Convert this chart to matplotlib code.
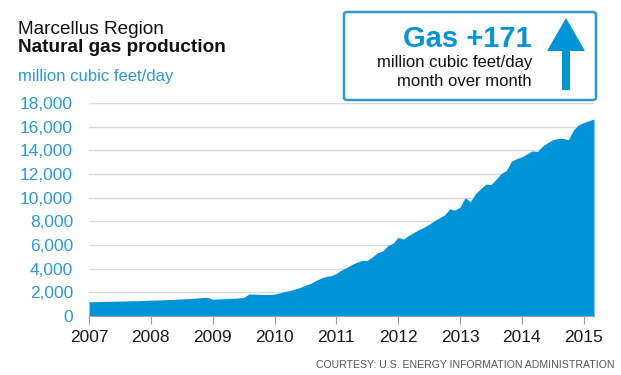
import numpy as np
import matplotlib
matplotlib.use("Agg")
import matplotlib.pyplot as plt
from matplotlib.patches import FancyBboxPatch, Polygon

plt.rcParams['font.family'] = ['Liberation Sans', 'DejaVu Sans']

start_year = 2007
# Monthly production, million cubic feet/day, Jan 2007 - Mar 2015
production = [
    # 2007
    1200, 1210, 1220, 1230, 1240, 1250, 1260, 1270, 1280, 1290, 1300, 1320,
    # 2008
    1340, 1350, 1360, 1380, 1400, 1420, 1440, 1460, 1490, 1520, 1560, 1570,
    # 2009
    1420, 1440, 1460, 1480, 1500, 1520, 1560, 1850, 1850, 1830, 1820, 1820,
    # 2010
    1850, 1950, 2080, 2150, 2280, 2420, 2600, 2750, 3000, 3200, 3350, 3400,
    # 2011
    3600, 3900, 4100, 4350, 4550, 4700, 4700, 5000, 5350, 5500, 5950, 6150,
    # 2012
    6650, 6500, 6800, 7050, 7300, 7500, 7750, 8050, 8300, 8550, 9050, 8950,
    # 2013
    9200, 10000, 9650, 10350, 10750, 11150, 11100, 11550, 12050, 12300, 13100, 13300,
    # 2014
    13450, 13700, 13950, 13900, 14350, 14650, 14900, 15000, 15000, 14900, 15700, 16150,
    # 2015
    16350, 16500, 16650,
]
year_ticks = [2007, 2008, 2009, 2010, 2011, 2012, 2013, 2014, 2015]
y_ticks = [0, 2000, 4000, 6000, 8000, 10000, 12000, 14000, 16000, 18000]

W, H = 621, 375
fig = plt.figure(figsize=(W / 100, H / 100), dpi=100)

def fx(px):
    return px / W

def fy(py):
    return 1 - py / H

ax = fig.add_axes([fx(89), fy(316), fx(594) - fx(89), fy(103) - fy(316)])

x = start_year + np.arange(len(production)) / 12.0
BLUE = '#0093d6'
ax.fill_between(x, production, 0, color=BLUE, linewidth=0, zorder=2)

ax.set_xlim(start_year, x[-1])
ax.set_ylim(0, 18000)
ax.set_yticks(y_ticks)
ax.set_yticklabels([f"{v:,}" for v in y_ticks], color='#2f98cf', fontsize=12.5)
ax.set_xticks(year_ticks)
ax.set_xticklabels([str(y) for y in year_ticks], color='#1a1a1a', fontsize=12.5)
ax.grid(axis='y', color='#d9d9d9', linewidth=1, zorder=0)
ax.set_axisbelow(True)
for s in ['top', 'right', 'left']:
    ax.spines[s].set_visible(False)
ax.spines['bottom'].set_color('#9a9a9a')
ax.spines['bottom'].set_zorder(3)
ax.tick_params(axis='y', length=0, pad=11.5)
ax.tick_params(axis='x', length=6, color='#9a9a9a', pad=4)

# Titles
fig.text(fx(18), fy(29), 'Marcellus Region', fontsize=13.7, color='#111111', va='center', ha='left')
fig.text(fx(18), fy(48), 'Natural gas production', fontsize=13.7, fontweight='bold', color='#111111', va='center', ha='left')
fig.text(fx(18), fy(77), 'million cubic feet/day', fontsize=12, color='#2f98cf', va='center', ha='left')

# Box
box = FancyBboxPatch((fx(344), fy(100)), fx(596) - fx(344), fy(12) - fy(100),
                     boxstyle='round,pad=0,rounding_size=0.006',
                     transform=fig.transFigure, facecolor='white',
                     edgecolor='#2f98cf', linewidth=1.8)
fig.add_artist(box)
fig.text(fx(532), fy(39), 'Gas +171', fontsize=21, fontweight='bold', color=BLUE, ha='right', va='center')
fig.text(fx(532), fy(63), 'million cubic feet/day', fontsize=12, color='#111111', ha='right', va='center')
fig.text(fx(532), fy(82), 'month over month', fontsize=12, color='#111111', ha='right', va='center')

arrow_px = [(562, 90), (570, 90), (570, 51), (585, 51), (566, 18), (547, 51), (562, 51)]
arrow = Polygon([(fx(a), fy(b)) for a, b in arrow_px], closed=True,
                transform=fig.transFigure, facecolor=BLUE, edgecolor='none')
fig.add_artist(arrow)

fig.text(fx(615), fy(365), 'COURTESY: U.S. ENERGY INFORMATION ADMINISTRATION',
         fontsize=7.6, color='#555555', ha='right', va='center')

fig.savefig('out.png', dpi=100)
